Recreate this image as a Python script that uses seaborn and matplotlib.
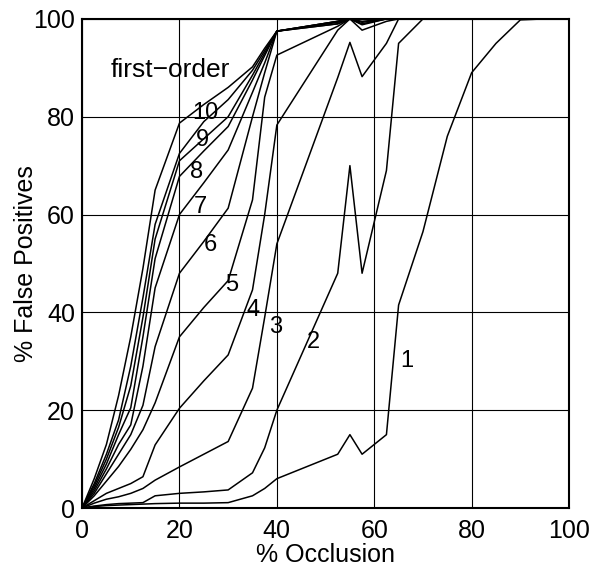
import pandas as pd
import matplotlib
matplotlib.use("Agg")
import matplotlib.pyplot as plt
import seaborn as sns

# occlusion levels (%) shared by all curves
occlusion = [0, 2.5, 5, 7.5, 10, 12.5, 15, 20, 25, 30, 35, 37.5, 40,
             52.5, 55, 57.5, 62.5, 65, 70, 75, 80, 85, 90, 95, 97.5]

# % false positives for each curve
fp_first = [0, 6, 13, 23, 35, 49, 65, 78.7, 82.5, 86, 90.2, 94, 97.5,
            99.5, 100, 100, 100, 100, 100, 100, 100, 100, 100, 100, 100]
fp_10 = [0, 5, 11, 18, 29, 43, 58, 72.5, 79, 83.5, 89.5, 93.5, 97.5,
         99.5, 100, 100, 100, 100, 100, 100, 100, 100, 100, 100, 100]
fp_9 = [0, 4.5, 10, 16.5, 25, 39, 55, 71, 75.5, 80, 88.5, 93, 97.5,
        99.5, 100, 100, 100, 100, 100, 100, 100, 100, 100, 100, 100]
fp_8 = [0, 4, 9, 15, 20.5, 35, 51, 67.8, 73, 78, 87.5, 92.5, 97.5,
        99.3, 100, 99.5, 100, 100, 100, 100, 100, 100, 100, 100, 100]
fp_7 = [0, 3.5, 8, 13, 17, 29, 45, 60, 66.5, 73.2, 85, 91, 97.5,
        99, 100, 99.3, 100, 100, 100, 100, 100, 100, 100, 100, 100]
fp_6 = [0, 3, 7, 11, 15, 21, 33, 48, 54.5, 61.3, 80, 89, 97.5,
        99, 100, 99, 100, 100, 100, 100, 100, 100, 100, 100, 100]
fp_5 = [0, 2.5, 5.5, 8.5, 12, 16, 21.5, 35, 41, 46.5, 63, 84, 92.6,
        98.5, 100, 98.8, 100, 100, 100, 100, 100, 100, 100, 100, 100]
fp_4 = [0, 1.5, 3, 4, 5, 6.4, 12.9, 20.4, 26, 31.3, 44.6, 60, 78.3,
        97.7, 100, 97.7, 99.5, 100, 100, 100, 100, 100, 100, 100, 100]
fp_3 = [0, 1, 1.8, 2.3, 3, 4, 5.7, 8.4, 11, 13.6, 24.5, 39, 54,
        88, 95.2, 88.2, 95, 100, 100, 100, 100, 100, 100, 100, 100]
fp_2 = [0, 0.4, 0.7, 0.9, 1.0, 1.1, 2.5, 3.0, 3.3, 3.7, 7.2, 12.3, 20,
        48, 70, 48, 69, 95, 100, 100, 100, 100, 100, 100, 100]
fp_1 = [0, 0.3, 0.5, 0.6, 0.7, 0.8, 0.9, 1.0, 1.0, 1.1, 2.5, 4, 6,
        11, 15, 11, 15, 41.5, 56.5, 76, 89, 95, 99.8, 100, 100]

curve_names = ["first-order", "10", "9", "8", "7", "6", "5", "4", "3", "2", "1"]
curve_values = [fp_first, fp_10, fp_9, fp_8, fp_7, fp_6, fp_5, fp_4, fp_3, fp_2, fp_1]

# label text and where it sits (data coords)
label_text = ["first\u2212order", "10", "9", "8", "7", "6", "5", "4", "3", "2", "1"]
label_x = [18.1, 25.3, 24.8, 23.6, 24.2, 26.3, 30.8, 35.1, 39.8, 47.6, 66.7]
label_y = [89.6, 80.8, 75.3, 68.7, 61.6, 53.8, 45.6, 40.5, 37.0, 34.0, 30.1]

rows = []
for name, vals in zip(curve_names, curve_values):
    for x, y in zip(occlusion, vals):
        rows.append({"curve": name, "occlusion": x, "fp": y})
df = pd.DataFrame(rows)

sns.set_style("white")
plt.rcParams["font.family"] = ["Liberation Sans", "DejaVu Sans"]

fig = plt.figure(figsize=(5.99, 5.73), dpi=100)
ax = fig.add_axes([0.137, 0.1134, 0.813, 0.8536])

sns.lineplot(data=df, x="occlusion", y="fp", units="curve", estimator=None,
             color="black", lw=1.1, sort=False, ax=ax)

for t, x, y in zip(label_text, label_x, label_y):
    size = 19 if t.startswith("first") else 17
    ax.text(x, y, t, fontsize=size, ha="center", va="center", color="black")

ax.set_xlim(0, 100)
ax.set_ylim(0, 100)
ticks = [0, 20, 40, 60, 80, 100]
ax.set_xticks(ticks)
ax.set_yticks(ticks)
ax.grid(True, color="black", lw=0.8)
ax.set_axisbelow(True)
for s in ax.spines.values():
    s.set_color("black")
    s.set_linewidth(1.5)
ax.tick_params(axis="both", length=0, labelsize=18, colors="black")
ax.tick_params(axis="x", pad=8)
ax.tick_params(axis="y", pad=5)
ax.set_xlabel("% Occlusion", fontsize=18, labelpad=0, color="black")
ax.set_ylabel("% False Positives", fontsize=18, color="black")
ax.yaxis.set_label_coords(-0.09, 0.5)

fig.savefig("out.png", dpi=100)
